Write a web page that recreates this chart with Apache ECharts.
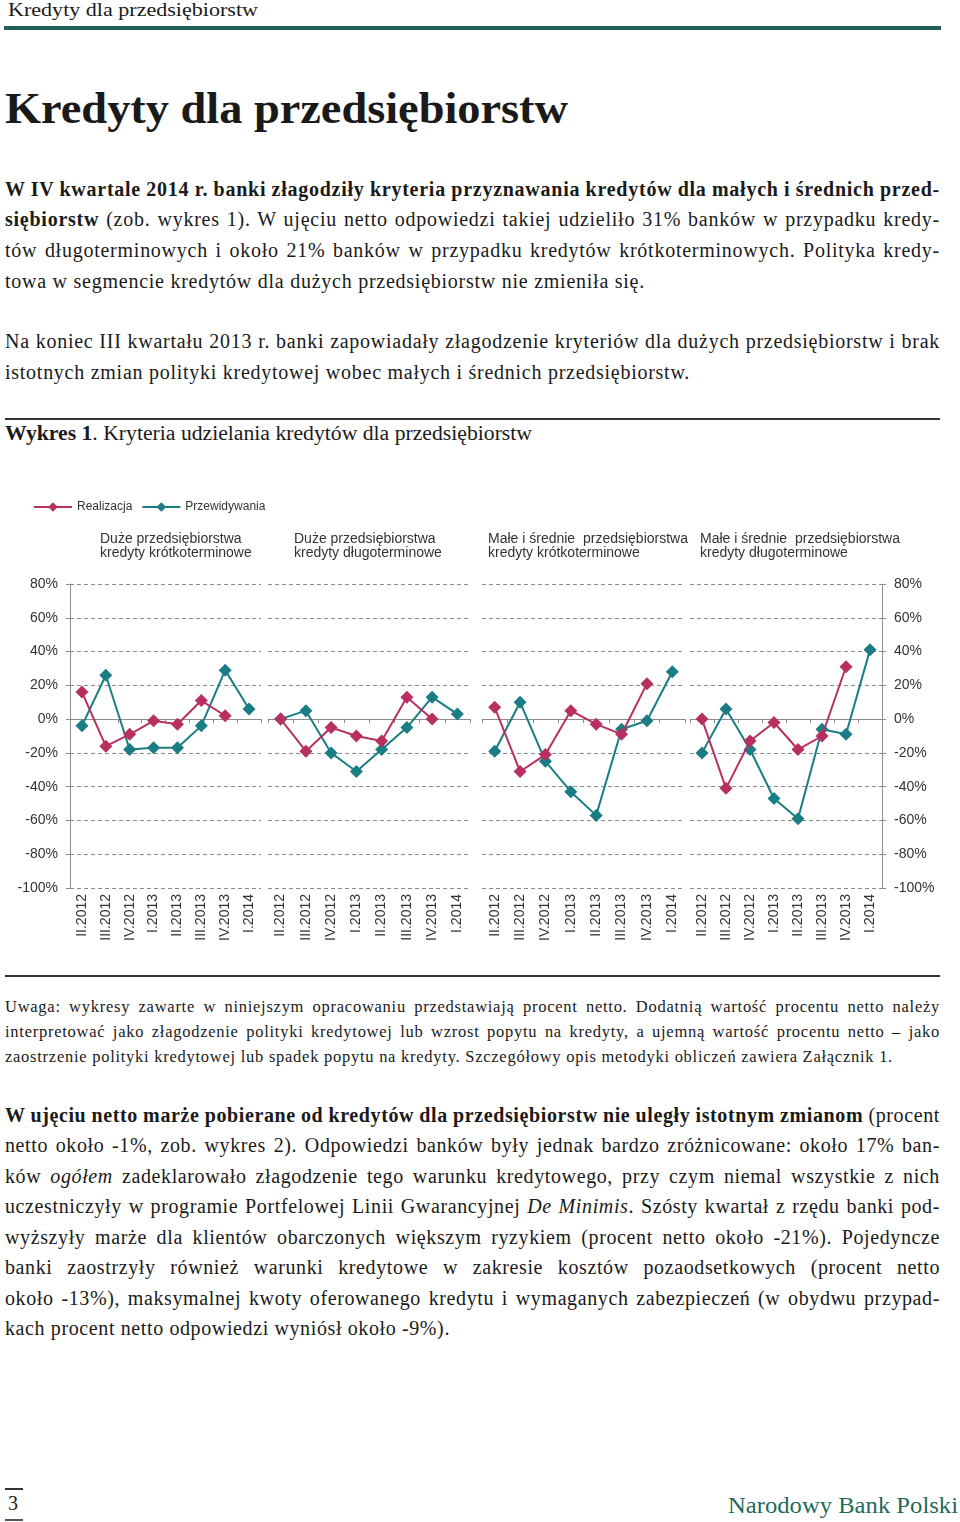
<!DOCTYPE html>
<html>
<head>
<meta charset="utf-8">
<script src="https://cdn.jsdelivr.net/npm/echarts@6/dist/echarts.min.js"></script>
<style>
html,body{margin:0;padding:0;background:#fff;}
body{width:960px;height:1522px;position:relative;overflow:hidden;font-family:'Liberation Serif',serif;color:#1a1a1a;}
.ln{position:absolute;left:5px;white-space:nowrap;line-height:30px;font-size:20px;}
.ln span.t{display:inline-block;white-space:nowrap;}
.uw{font-size:16.5px;line-height:25px;}
.rule{position:absolute;left:5px;width:935px;background:#333;}
</style>
</head>
<body>
<div class="ln" style="left:8px;top:-5px;font-size:19px;"><span class="t" data-w="250" data-mode="scale">Kredyty dla przedsiębiorstw</span></div>
<div style="position:absolute;left:4px;top:26px;width:937px;height:4px;background:#1f5f55;"></div>
<div class="ln" style="top:87px;font-size:44px;line-height:44px;font-weight:bold;"><span class="t" data-w="563" data-mode="scale">Kredyty dla przedsiębiorstw</span></div>

<div class="ln" style="top:174px;"><span class="t" data-g="p1" data-w="935"><b>W IV kwartale 2014 r. banki złagodziły kryteria przyznawania kredytów dla małych i średnich przed-</b></span></div>
<div class="ln" style="top:204px;"><span class="t" data-g="p1" data-w="935"><b>siębiorstw</b> (zob. wykres 1). W ujęciu netto odpowiedzi takiej udzieliło 31% banków w przypadku kredy-</span></div>
<div class="ln" style="top:235px;"><span class="t" data-g="p1" data-w="935">tów długoterminowych i około 21% banków w przypadku kredytów krótkoterminowych. Polityka kredy-</span></div>
<div class="ln" style="top:266px;"><span class="t last" data-g="p1" data-w="640">towa w segmencie kredytów dla dużych przedsiębiorstw nie zmieniła się.</span></div>

<div class="ln" style="top:326px;"><span class="t" data-g="p2" data-w="935">Na koniec III kwartału 2013 r. banki zapowiadały złagodzenie kryteriów dla dużych przedsiębiorstw i brak</span></div>
<div class="ln" style="top:357px;"><span class="t last" data-g="p2" data-w="685">istotnych zmian polityki kredytowej wobec małych i średnich przedsiębiorstw.</span></div>

<div class="rule" style="top:418px;height:1.5px;"></div>
<div class="ln" style="top:418px;"><span class="t" data-w="527" data-mode="scale"><b>Wykres 1</b>. Kryteria udzielania kredytów dla przedsiębiorstw</span></div>

<div id="chart" style="position:absolute;left:0;top:450px;width:960px;height:510px;"></div>

<div class="rule" style="top:975px;height:1.5px;"></div>
<div class="ln uw" style="top:994px;"><span class="t" data-g="u" data-w="935">Uwaga: wykresy zawarte w niniejszym opracowaniu przedstawiają procent netto. Dodatnią wartość procentu netto należy</span></div>
<div class="ln uw" style="top:1019px;"><span class="t" data-g="u" data-w="935">interpretować jako złagodzenie polityki kredytowej lub wzrost popytu na kredyty, a ujemną wartość procentu netto – jako</span></div>
<div class="ln uw" style="top:1044px;"><span class="t last" data-g="u" data-w="888">zaostrzenie polityki kredytowej lub spadek popytu na kredyty. Szczegółowy opis metodyki obliczeń zawiera Załącznik 1.</span></div>

<div class="ln" style="top:1100px;"><span class="t" data-g="p3" data-w="935"><b>W ujęciu netto marże pobierane od kredytów dla przedsiębiorstw nie uległy istotnym zmianom</b> (procent</span></div>
<div class="ln" style="top:1130px;"><span class="t" data-g="p3" data-w="935">netto około -1%, zob. wykres 2). Odpowiedzi banków były jednak bardzo zróżnicowane: około 17% ban-</span></div>
<div class="ln" style="top:1161px;"><span class="t" data-g="p3" data-w="935">ków <i>ogółem</i> zadeklarowało złagodzenie tego warunku kredytowego, przy czym niemal wszystkie z nich</span></div>
<div class="ln" style="top:1191px;"><span class="t" data-g="p3" data-w="935">uczestniczyły w programie Portfelowej Linii Gwarancyjnej <i>De Minimis</i>. Szósty kwartał z rzędu banki pod-</span></div>
<div class="ln" style="top:1222px;"><span class="t" data-g="p3" data-w="935">wyższyły marże dla klientów obarczonych większym ryzykiem (procent netto około -21%). Pojedyncze</span></div>
<div class="ln" style="top:1252px;"><span class="t" data-g="p3" data-w="935">banki zaostrzyły również warunki kredytowe w zakresie kosztów pozaodsetkowych (procent netto</span></div>
<div class="ln" style="top:1283px;"><span class="t" data-g="p3" data-w="935">około -13%), maksymalnej kwoty oferowanego kredytu i wymaganych zabezpieczeń (w obydwu przypad-</span></div>
<div class="ln" style="top:1313px;"><span class="t last" data-g="p3" data-w="445">kach procent netto odpowiedzi wyniósł około -9%).</span></div>

<div style="position:absolute;left:5px;top:1488px;width:18px;height:1.5px;background:#333;"></div>
<div class="ln" style="left:8px;top:1488px;font-size:20px;"><span class="t">3</span></div>
<div style="position:absolute;left:5px;top:1519px;width:18px;height:2px;background:#555;"></div>
<div class="ln" style="left:728px;top:1490px;font-size:24px;color:#1d6a5c;"><span class="t" data-w="230" data-mode="scale">Narodowy Bank Polski</span></div>

<script>
// ---- chart data ----
var categories = ['II.2012','III.2012','IV.2012','I.2013','II.2013','III.2013','IV.2013','I.2014'];
var yTicks = [-100,-80,-60,-40,-20,0,20,40,60,80];
var panelTitles = [
  'Duże przedsiębiorstwa\nkredyty krótkoterminowe',
  'Duże przedsiębiorstwa\nkredyty długoterminowe',
  'Małe i średnie  przedsiębiorstwa\nkredyty krótkoterminowe',
  'Małe i średnie  przedsiębiorstwa\nkredyty długoterminowe'
];
var seriesNames = ['Realizacja','Przewidywania'];
var duzeKrotkieRealizacja    = [16, -16, -9, -1, -3, 11, 2, null];
var duzeKrotkiePrzewidywania = [-4, 26, -18, -17, -17, -4, 29, 6];
var duzeDlugieRealizacja     = [0, -19, -5, -10, -13, 13, 0, null];
var duzeDlugiePrzewidywania  = [0, 5, -20, -31, -18, -5, 13, 3];
var mspKrotkieRealizacja     = [7, -31, -21, 5, -3, -9, 21, null];
var mspKrotkiePrzewidywania  = [-19, 10, -25, -43, -57, -6, -1, 28];
var mspDlugieRealizacja      = [0, -41, -13, -2, -18, -10, 31, null];
var mspDlugiePrzewidywania   = [-20, 6, -18, -47, -59, -6, -9, 41];

// ---- fit text lines (per-paragraph letter spacing from the last line, word spacing for justification) ----
var groupLS = {};
document.querySelectorAll('span.t.last').forEach(function(el){
  var t = +el.dataset.w, w = el.getBoundingClientRect().width;
  var n = el.textContent.length;
  groupLS[el.dataset.g] = Math.max(0, (t - w) / n);
});
document.querySelectorAll('span.t[data-w]').forEach(function(el){
  var t = +el.dataset.w;
  if (el.dataset.g && groupLS[el.dataset.g] != null) el.style.letterSpacing = groupLS[el.dataset.g] + 'px';
  var w = el.getBoundingClientRect().width;
  var sp = (el.textContent.match(/ /g)||[]).length;
  if (el.dataset.mode === 'scale' || sp < 4) {
    el.style.transformOrigin = 'left center';
    el.style.transform = 'scaleX(' + (t / w) + ')';
  } else {
    el.style.wordSpacing = ((t - w) / sp) + 'px';
  }
});

var panels = [
  [duzeKrotkieRealizacja, duzeKrotkiePrzewidywania],
  [duzeDlugieRealizacja, duzeDlugiePrzewidywania],
  [mspKrotkieRealizacja, mspKrotkiePrzewidywania],
  [mspDlugieRealizacja, mspDlugiePrzewidywania]
];
var colors = ['#b8305f', '#1a7d84'];
var gridPos = [{left:70,width:191},{left:268,width:202},{left:482,width:203},{left:690,width:192}];
var titleLeft = [100, 294, 488, 700];
var font = 'Liberation Sans, Arial, sans-serif';

var grids = [], xAxes = [], yAxes = [], series = [], titles = [];
gridPos.forEach(function(g, i){
  grids.push({left:g.left, width:g.width, top:134, height:304});
  xAxes.push({
    type:'category', gridIndex:i, data:categories, boundaryGap:true,
    axisLine:{show:true, lineStyle:{color:'#8c8c8c', width:1}},
    axisTick:{show:true, length:4, inside:false, lineStyle:{color:'#8c8c8c'}},
    axisLabel:{interval:0, rotate:90, margin:6, fontSize:14, color:'#333', fontFamily:font},
    splitLine:{show:false}
  });
  var edge = (i === 0 || i === 3);
  yAxes.push({
    type:'value', gridIndex:i, min:yTicks[0], max:yTicks[yTicks.length-1], interval:20,
    position: i === 3 ? 'right' : 'left',
    axisLine:{show:edge, lineStyle:{color:'#8c8c8c', width:1}},
    axisTick:{show:edge, length:4, lineStyle:{color:'#8c8c8c'}},
    axisLabel:{show:edge, formatter:'{value}%', margin:12, fontSize:14, color:'#333', fontFamily:font},
    splitLine:{show:true, lineStyle:{color:'#8a8a8a', type:[4,3], width:1}}
  });
  panels[i].forEach(function(vals, k){
    series.push({
      name:seriesNames[k], type:'line', xAxisIndex:i, yAxisIndex:i, data:vals,
      symbol:'diamond', symbolSize:13, showSymbol:true,
      lineStyle:{color:colors[k], width:2}, itemStyle:{color:colors[k]},
      connectNulls:false, animation:false, z: k===0 ? 3 : 2
    });
  });
  titles.push({
    text:panelTitles[i], left:titleLeft[i], top:82, padding:0,
    textStyle:{fontSize:14, fontWeight:'normal', color:'#333', fontFamily:font, lineHeight:14}
  });
});

var chart = echarts.init(document.getElementById('chart'), null, {renderer:'canvas'});
chart.setOption({
  animation:false,
  title:titles,
  legend:{
    data:seriesNames, left:33, top:51, padding:0, itemWidth:38, itemHeight:12, itemGap:9,
    textStyle:{fontSize:12, color:'#333', fontFamily:font}
  },
  grid:grids, xAxis:xAxes, yAxis:yAxes, series:series
});
</script>
</body>
</html>
